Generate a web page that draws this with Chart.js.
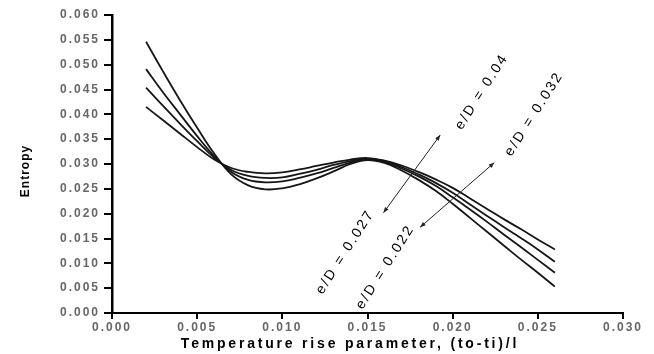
<!DOCTYPE html>
<html>
<head>
<meta charset="utf-8">
<script src="https://cdn.jsdelivr.net/npm/chart.js@4.4.1/dist/chart.umd.min.js"></script>
<style>
  html, body { margin: 0; padding: 0; background: #ffffff; }
  #wrap { width: 654px; height: 354px; position: relative; }
</style>
</head>
<body>
<div id="wrap"><canvas id="entropyChart"></canvas></div>
<script>
// Temperature rise parameter (to-ti)/l
const xParam = [
  0.002, 0.003, 0.004, 0.005, 0.006, 0.007, 0.008, 0.009, 0.010, 0.011, 0.012, 0.013,
  0.014, 0.015, 0.016, 0.017, 0.018, 0.019, 0.020, 0.021, 0.022, 0.023, 0.024, 0.025, 0.026
];

// Entropy for each roughness ratio e/D
const entropyED040 = [
  0.0546, 0.0486, 0.0428, 0.0373, 0.0321, 0.0279, 0.0257, 0.0249, 0.0251, 0.0259, 0.0271, 0.0285,
  0.0300, 0.0308, 0.0302, 0.0287, 0.0268, 0.0246, 0.0220, 0.0192, 0.0164, 0.0136, 0.0108, 0.0081, 0.0053
];
const entropyED032 = [
  0.0491, 0.0444, 0.0400, 0.0356, 0.0316, 0.0284, 0.0268, 0.0263, 0.0265, 0.0272, 0.0281, 0.0292,
  0.0303, 0.0309, 0.0304, 0.0291, 0.0275, 0.0256, 0.0233, 0.0209, 0.0184, 0.0158, 0.0133, 0.0107, 0.0081
];
const entropyED027 = [
  0.0454, 0.0417, 0.0381, 0.0346, 0.0313, 0.0288, 0.0276, 0.0272, 0.0273, 0.0280, 0.0288, 0.0298,
  0.0306, 0.0311, 0.0306, 0.0294, 0.0279, 0.0262, 0.0242, 0.0219, 0.0196, 0.0173, 0.0151, 0.0128, 0.0103
];
const entropyED022 = [
  0.0415, 0.0388, 0.0361, 0.0334, 0.0309, 0.0292, 0.0284, 0.0281, 0.0283, 0.0289, 0.0296, 0.0303,
  0.0309, 0.0312, 0.0307, 0.0297, 0.0284, 0.0269, 0.0252, 0.0231, 0.0210, 0.0189, 0.0169, 0.0148, 0.0128
];

const seriesLabels = ['e/D = 0.04', 'e/D = 0.032', 'e/D = 0.027', 'e/D = 0.022'];
const seriesValues = [entropyED040, entropyED032, entropyED027, entropyED022];

// double-headed arrows, in axis units: [x1, y1, x2, y2]
const arrows = [
  [0.01927, 0.03584, 0.01594, 0.02020],
  [0.02244, 0.03027, 0.01809, 0.01726]
];

// rotated curve labels, centre in axis units
const curveNotes = [
  { text: 'e/D = 0.04',  x: 0.02171, y: 0.04456 },
  { text: 'e/D = 0.032', x: 0.02478, y: 0.04007 },
  { text: 'e/D = 0.027', x: 0.01369, y: 0.01228 },
  { text: 'e/D = 0.022', x: 0.01604, y: 0.00926 }
];

const FONT = "'Liberation Sans', Arial, sans-serif";

function arrowHead(ctx, fx, fy, tx, ty) {
  const a = Math.atan2(ty - fy, tx - fx);
  const len = 5.5, half = 2.2;
  ctx.beginPath();
  ctx.moveTo(tx, ty);
  ctx.lineTo(tx - len * Math.cos(a) + half * Math.sin(a), ty - len * Math.sin(a) - half * Math.cos(a));
  ctx.lineTo(tx - len * Math.cos(a) - half * Math.sin(a), ty - len * Math.sin(a) + half * Math.cos(a));
  ctx.closePath();
  ctx.fill();
}

const notesPlugin = {
  id: 'notes',
  beforeDraw(chart) {
    // spaced-out tick labels
    chart.ctx.letterSpacing = '2px';
  },
  afterDraw(chart) {
    const ctx = chart.ctx;
    const xs = chart.scales.x;
    const ys = chart.scales.y;

    ctx.save();
    ctx.strokeStyle = '#222';
    ctx.fillStyle = '#222';
    ctx.lineWidth = 1;
    arrows.forEach(([x1, y1, x2, y2]) => {
      const ax = xs.getPixelForValue(x1), ay = ys.getPixelForValue(y1);
      const bx = xs.getPixelForValue(x2), by = ys.getPixelForValue(y2);
      ctx.beginPath();
      ctx.moveTo(ax, ay);
      ctx.lineTo(bx, by);
      ctx.stroke();
      arrowHead(ctx, bx, by, ax, ay);
      arrowHead(ctx, ax, ay, bx, by);
    });

    ctx.fillStyle = '#000';
    ctx.font = '14px ' + FONT;
    ctx.letterSpacing = '2.2px';
    ctx.textAlign = 'center';
    ctx.textBaseline = 'middle';
    curveNotes.forEach(n => {
      ctx.save();
      ctx.translate(xs.getPixelForValue(n.x), ys.getPixelForValue(n.y));
      ctx.rotate(-57.5 * Math.PI / 180);
      ctx.fillText(n.text, 0, 0);
      ctx.restore();
    });

    // axis titles
    ctx.font = 'bold 14px ' + FONT;
    ctx.letterSpacing = '2.8px';
    ctx.textBaseline = 'alphabetic';
    ctx.fillText('Temperature rise parameter, (to-ti)/l', 350, 348);

    ctx.save();
    ctx.translate(29, 171);
    ctx.rotate(-Math.PI / 2);
    ctx.font = 'bold 12px ' + FONT;
    ctx.letterSpacing = '1px';
    ctx.fillText('Entropy', 0, 0);
    ctx.restore();

    ctx.restore();
    ctx.letterSpacing = '0px';
  }
};

document.addEventListener('DOMContentLoaded', function() {
  const el = document.getElementById('entropyChart');

  new Chart(el, {
    type: 'line',
    data: {
      datasets: seriesValues.map((vals, i) => ({
        label: seriesLabels[i],
        data: xParam.map((x, j) => ({ x: x, y: vals[j] })),
        borderColor: '#161616',
        borderWidth: 1.8,
        pointRadius: 0,
        fill: false,
        tension: 0.4
      }))
    },
    options: {
      responsive: true,
      maintainAspectRatio: false,
      animation: false,
      layout: { padding: { top: 15, right: 31, left: 0, bottom: 0 } },
      plugins: {
        legend: { display: false },
        tooltip: { enabled: false }
      },
      scales: {
        x: {
          type: 'linear',
          min: 0,
          max: 0.03,
          afterFit: s => { s.height = 41; },
          ticks: {
            stepSize: 0.005,
            autoSkip: false,
            maxRotation: 0,
            padding: 1,
            color: '#666666',
            font: { family: FONT, size: 12, weight: 'bold' },
            callback: v => v.toFixed(3)
          },
          grid: { drawOnChartArea: false, drawTicks: true, tickLength: 6, color: '#000', lineWidth: 2 },
          border: { color: '#000', width: 2 }
        },
        y: {
          min: 0,
          max: 0.06,
          afterFit: s => { s.width = 112; },
          ticks: {
            stepSize: 0.005,
            autoSkip: false,
            padding: 4,
            color: '#666666',
            font: { family: FONT, size: 12, weight: 'bold' },
            callback: v => v.toFixed(3)
          },
          grid: { drawOnChartArea: false, drawTicks: true, tickLength: 8, color: '#000', lineWidth: 2 },
          border: { color: '#000', width: 2.5 }
        }
      }
    },
    plugins: [notesPlugin]
  });
});
</script>
</body>
</html>
